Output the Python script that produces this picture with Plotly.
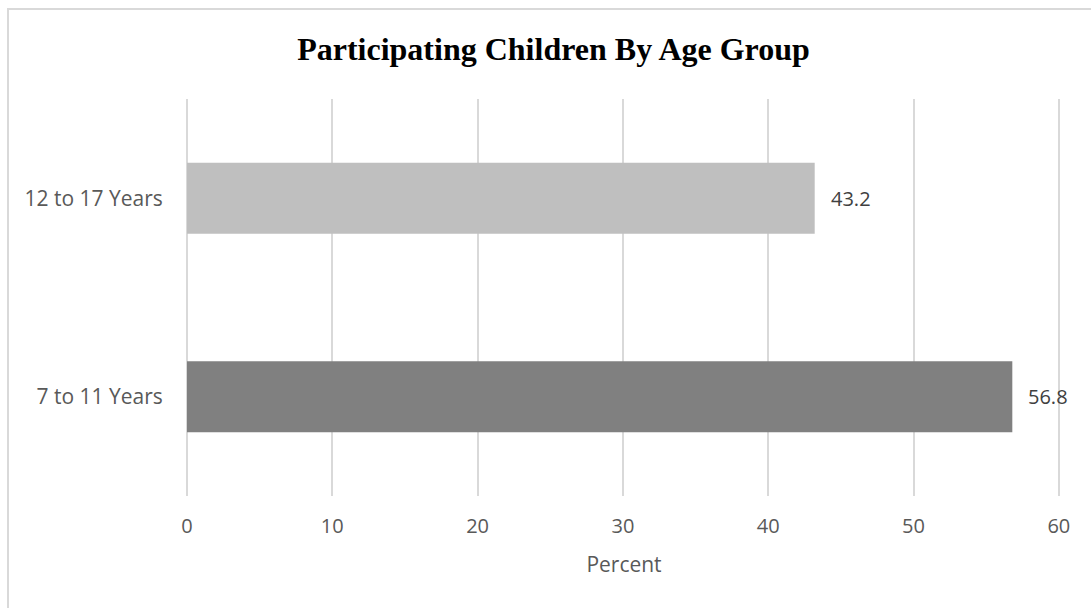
import plotly.graph_objects as go

categories = ["7 to 11 Years", "12 to 17 Years"]
values = [56.8, 43.2]
bar_colors = ["#808080", "#BFBFBF"]
x_ticks = [0, 10, 20, 30, 40, 50, 60]
title_text = "Participating Children By Age Group"
x_title = "Percent"

W, H = 1091, 608
L, R, T, B = 187, 30, 99, 112
pw, ph = W - L - R, H - T - B

fig = go.Figure()
fig.add_trace(go.Bar(
    y=categories, x=values, orientation="h",
    marker=dict(color=bar_colors, line=dict(width=0)),
    width=0.357, hoverinfo="skip",
))

for c, v in zip(categories, values):
    fig.add_annotation(x=v, y=c, xref="x", yref="y", text=f"{v:.1f}",
                       showarrow=False, xanchor="left", xshift=14,
                       font=dict(family="Open Sans", size=20, color="#404040"))

def px_to_paper_x(px):
    return (px - L) / pw

def px_to_paper_y(py):
    return (H - B - py) / ph

fig.add_shape(type="rect", xref="paper", yref="paper",
              x0=px_to_paper_x(8), x1=px_to_paper_x(1100),
              y0=px_to_paper_y(620), y1=px_to_paper_y(9),
              line=dict(color="#D9D9D9", width=2), fillcolor="rgba(0,0,0,0)",
              layer="below")

fig.update_layout(
    width=W, height=H,
    margin=dict(l=L, r=R, t=T, b=B, pad=0),
    paper_bgcolor="white", plot_bgcolor="white",
    showlegend=False,
    title=dict(text=f"<b>{title_text}</b>", x=553.5 / W, xanchor="center",
               y=1 - 49 / H, yanchor="middle", yref="container", xref="container",
               font=dict(family="Liberation Serif", size=32, color="#000000")),
    xaxis=dict(range=[0, 60.15], tickvals=x_ticks, showgrid=True, gridcolor="#D9D9D9",
               gridwidth=2, zeroline=True, zerolinecolor="#D9D9D9", zerolinewidth=2,
               showline=False,
               ticks="outside", ticklen=12, tickcolor="rgba(0,0,0,0)",
               tickfont=dict(family="Open Sans", size=20, color="#595959"),
               title=dict(text=x_title, standoff=19,
                          font=dict(family="Open Sans", size=21, color="#595959"))),
    yaxis=dict(categoryorder="array", categoryarray=categories, range=[-0.5, 1.5],
               showgrid=False, zeroline=False, showline=False,
               ticks="outside", ticklen=19, tickcolor="rgba(0,0,0,0)",
               tickfont=dict(family="Open Sans", size=21, color="#595959")),
)

fig.write_html("out.html")
